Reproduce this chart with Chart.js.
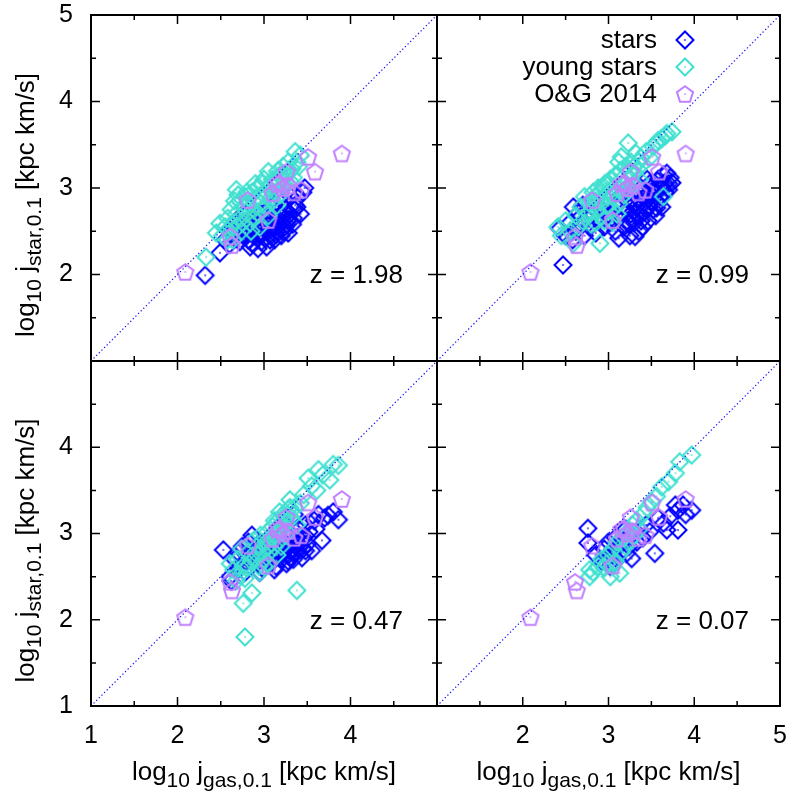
<!DOCTYPE html>
<html>
<head>
<meta charset="utf-8">
<script src="https://cdn.jsdelivr.net/npm/chart.js@4"></script>
<style>
  body { margin: 0; background: #fff; }
  #wrap { position: relative; width: 791px; height: 791px; }
  canvas { position: absolute; left: 0; top: 0; }
</style>
</head>
<body>
<div id="wrap">
  <canvas id="p0" width="791" height="791"></canvas>
  <canvas id="p1" width="791" height="791"></canvas>
  <canvas id="p2" width="791" height="791"></canvas>
  <canvas id="p3" width="791" height="791"></canvas>
</div>
<script>
// ---- data (log10 j_gas, log10 j_star) ----
const seriesNames = ["stars", "young stars", "O&G 2014"];
const redshifts = ["1.98", "0.99", "0.47", "0.07"];
const axisTicks = [1, 2, 3, 4, 5];

const og2014 = [[2.09,2.03],[2.61,2.44],[2.63,2.34],[2.81,2.86],[3.05,2.63],[3.10,2.94],[3.18,3.06],
  [3.22,3.00],[3.28,3.03],[3.43,2.98],[3.26,3.19],[3.51,3.36],[3.59,3.19],[3.90,3.40],[3.15,3.05],[3.35,2.95]];

const starsZ198 = [[2.32,1.99],[2.49,2.25],[2.55,2.40],[2.60,2.35],[2.62,2.48],[2.66,2.42],[2.70,2.55],[2.72,2.38],
  [2.75,2.46],[2.78,2.52],[2.80,2.60],[2.82,2.40],[2.84,2.32],[2.85,2.48],[2.87,2.56],[2.88,2.65],[2.90,2.44],
  [2.92,2.52],[2.93,2.30],[2.95,2.60],[2.96,2.70],[2.97,2.38],[2.98,2.48],[3.00,2.55],[3.01,2.65],[3.02,2.42],
  [3.03,2.32],[3.04,2.75],[3.05,2.50],[3.06,2.60],[3.08,2.45],[3.09,2.68],[3.10,2.55],[3.11,2.80],[3.12,2.40],
  [3.13,2.62],[3.15,2.50],[3.16,2.72],[3.18,2.58],[3.20,2.45],[3.21,2.66],[3.22,2.85],[3.24,2.55],[3.25,2.75],
  [3.27,2.62],[3.28,2.48],[3.30,2.70],[3.31,2.90],[3.33,2.58],[3.34,2.65],[3.36,2.80],[3.38,2.78],[3.40,2.90],
  [3.42,2.70],[3.45,2.95],[3.47,3.00],[2.68,2.62],[2.76,2.70],[2.60,2.52],[3.18,2.88],
  [2.74,2.58],[2.83,2.50],[2.89,2.58],[2.94,2.46],[2.99,2.62],[3.03,2.58],[3.07,2.40],[3.14,2.55],[3.19,2.68],
  [3.23,2.50],[3.26,2.58],[3.29,2.64],[2.86,2.36],[2.91,2.62],[3.07,2.70],[3.35,2.75],[3.14,2.46],[2.80,2.45]];
const youngZ198 = [[2.33,2.20],[2.45,2.48],[2.49,2.59],[2.52,2.45],[2.55,2.55],[2.58,2.65],[2.60,2.50],[2.62,2.75],
  [2.65,2.60],[2.68,2.98],[2.68,2.70],[2.70,2.55],[2.72,2.85],[2.74,2.65],[2.76,2.78],[2.78,2.90],[2.80,2.70],
  [2.82,2.82],[2.84,2.60],[2.86,2.95],[2.88,2.75],[2.90,2.88],[2.92,3.00],[2.94,2.70],[2.96,2.82],[2.98,3.05],
  [3.00,2.92],[3.02,2.78],[3.05,3.19],[3.05,3.00],[3.08,2.88],[3.10,3.10],[3.12,2.95],[3.14,3.05],[3.16,3.20],
  [3.18,2.92],[3.20,3.12],[3.22,3.25],[3.24,3.02],[3.26,3.15],[3.28,3.30],[3.30,3.08],[3.32,3.22],[3.34,3.12],
  [3.36,3.42],[3.38,3.30],[3.40,3.25],[3.42,3.38],[2.95,2.55],[3.15,2.80],[2.85,2.50],[2.64,2.40],[2.58,2.40],
  [3.05,2.68],[2.74,2.50],
  [2.66,2.85],[2.70,2.92],[2.80,2.95],[2.90,3.05],[3.00,3.10],[3.08,3.05],[3.18,3.15],[2.75,2.60],[2.88,2.65],
  [2.98,2.75],[3.10,2.85],[3.25,3.08],[2.62,2.55],[3.30,3.20]];

const starsZ099 = [[2.47,2.11],[2.43,2.53],[2.50,2.45],[2.55,2.60],[2.59,2.78],[2.62,2.50],[2.65,2.71],[2.68,2.58],
  [2.72,2.45],[2.75,2.65],[2.78,2.55],[2.82,2.70],[2.85,2.48],[2.88,2.62],[2.92,2.75],[2.95,2.55],[2.98,2.68],
  [3.00,2.85],[3.02,2.60],[3.05,2.72],[3.08,2.50],[3.10,2.80],[3.12,2.65],[3.15,2.92],[3.18,2.55],[3.20,2.75],
  [3.22,2.62],[3.24,2.85],[3.26,2.70],[3.28,2.95],[3.30,2.60],[3.31,2.44],[3.32,2.78],[3.34,2.88],[3.36,2.68],
  [3.38,3.00],[3.40,2.80],[3.42,2.72],[3.44,2.92],[3.46,2.62],[3.48,3.05],[3.50,2.85],[3.52,2.75],[3.54,2.95],
  [3.56,2.77],[3.58,3.10],[3.60,2.90],[3.62,3.00],[3.64,3.15],[3.66,2.95],[3.68,3.17],[3.70,3.05],[3.72,3.12],
  [3.74,3.06],[3.35,2.50],[3.25,2.45],[2.70,2.80],[3.45,3.10],[2.58,2.40],[3.12,2.42],
  [3.28,2.65],[3.33,2.72],[3.38,2.62],[3.42,2.88],[3.47,2.78],[3.52,2.95],[3.55,2.68],[3.58,2.82],[3.62,2.78],
  [3.66,3.05],[3.40,2.55],[3.30,2.82],[3.24,2.58],[3.50,3.00],[3.60,3.02],[3.70,2.98]];
const youngZ099 = [[2.41,2.55],[2.45,2.45],[2.50,2.62],[2.55,2.50],[2.59,2.36],[2.62,2.68],[2.65,2.55],[2.68,2.78],
  [2.70,2.62],[2.72,2.90],[2.75,2.70],[2.78,2.82],[2.80,2.58],[2.82,2.95],[2.84,2.90],[2.86,2.75],[2.88,3.00],
  [2.90,2.36],[2.90,2.85],[2.92,2.68],[2.94,3.02],[2.96,3.05],[2.98,2.80],[3.00,2.95],[3.02,3.10],[3.04,2.75],
  [3.06,2.90],[3.08,3.15],[3.10,3.00],[3.12,2.82],[3.14,3.20],[3.15,3.36],[3.16,3.05],[3.18,2.92],[3.20,3.25],
  [3.22,3.10],[3.23,3.52],[3.24,2.98],[3.26,3.30],[3.28,3.15],[3.30,3.05],[3.32,3.40],[3.34,3.22],[3.36,3.10],
  [3.38,3.35],[3.40,3.28],[3.44,3.42],[3.48,3.35],[3.52,3.48],[3.56,3.52],[3.58,3.55],[3.62,3.57],[3.64,2.90],
  [3.66,3.60],[3.68,3.63],[3.74,3.65],[2.95,2.62],[3.05,2.60],[2.85,2.60],[3.10,2.70],
  [2.95,2.90],[3.00,3.05],[3.05,3.00],[3.10,3.15],[3.15,3.10],[3.20,3.00],[3.25,3.20],[3.30,3.25],[2.85,2.85],
  [2.90,2.95],[3.12,3.30],[3.35,3.30],[2.78,2.70],[3.00,2.80]];

const starsZ047 = [[2.61,2.50],[2.53,2.81],[2.62,2.45],[2.66,2.70],[2.70,2.78],[2.72,2.60],[2.75,2.85],[2.78,2.68],
  [2.80,2.75],[2.82,2.90],[2.84,2.62],[2.86,2.98],[2.88,2.72],[2.90,2.80],[2.92,2.66],[2.94,2.88],[2.96,2.74],
  [2.98,2.60],[3.00,2.82],[3.02,2.70],[3.04,2.92],[3.06,2.65],[3.08,2.78],[3.10,2.86],[3.12,2.72],[3.14,2.62],
  [3.16,2.80],[3.18,2.95],[3.20,2.70],[3.22,2.78],[3.24,2.88],[3.26,2.65],[3.28,2.75],[3.30,3.00],[3.32,2.82],
  [3.34,2.70],[3.36,2.90],[3.38,2.78],[3.40,3.05],[3.42,2.85],[3.44,2.72],[3.46,2.95],[3.48,3.10],[3.50,2.88],
  [3.52,3.02],[3.55,2.80],[3.58,3.15],[3.60,3.05],[3.63,3.22],[3.67,2.92],[3.70,3.18],[3.74,3.21],[3.80,3.25],
  [3.86,3.16],[3.35,3.22],[3.25,3.10],[2.95,2.55],[3.12,2.58],[2.78,2.55],[3.48,2.80],
  [3.05,2.75],[3.10,2.68],[3.15,2.85],[3.20,2.78],[3.25,2.82],[3.30,2.72],[3.35,2.78],[3.40,2.88],[3.45,2.82],
  [3.28,2.68],[3.18,2.72],[3.38,2.95]];
const youngZ047 = [[2.78,1.80],[2.76,2.19],[2.86,2.31],[3.38,2.34],[2.61,2.65],[2.78,2.48],[2.65,2.58],[2.70,2.70],
  [2.72,2.52],[2.74,2.82],[2.76,2.62],[2.80,2.60],[2.82,2.78],[2.85,2.68],[2.88,2.92],[2.90,2.72],[2.92,2.85],
  [2.94,2.62],[2.96,2.98],[2.98,2.80],[3.00,2.70],[3.02,2.90],[3.04,3.02],[3.06,2.78],[3.08,2.95],[3.10,3.08],
  [3.12,2.85],[3.14,3.00],[3.16,3.15],[3.18,2.92],[3.20,3.05],[3.22,3.22],[3.24,2.98],[3.26,3.12],[3.28,3.28],
  [3.30,3.39],[3.32,3.18],[3.35,3.30],[3.38,3.10],[3.42,3.35],[3.46,3.45],[3.51,3.64],[3.55,3.55],[3.61,3.50],
  [3.63,3.74],[3.68,3.68],[3.76,3.62],[3.80,3.80],[3.86,3.79],[3.00,2.62],[3.15,2.75],[2.95,2.55],[3.05,2.65],
  [2.68,2.45],[3.20,2.85],
  [3.05,2.85],[3.10,2.95],[3.15,3.05],[3.20,3.12],[3.25,3.20],[2.92,2.75],[2.98,2.90],[3.12,3.15],[3.18,3.25],
  [3.30,3.30]];

const starsZ007 = [[2.76,3.06],[2.76,2.89],[2.85,2.75],[2.92,2.68],[2.95,2.82],[2.98,2.72],[3.00,2.90],[3.02,2.62],
  [3.05,2.80],[3.08,2.95],[3.10,2.70],[3.12,2.85],[3.15,2.78],[3.18,2.92],[3.21,2.77],[3.24,2.85],[3.27,2.71],
  [3.30,3.00],[3.33,2.90],[3.36,3.05],[3.40,2.95],[3.44,3.10],[3.48,3.02],[3.54,2.77],[3.58,3.18],[3.64,3.12],
  [3.68,3.04],[3.72,3.20],[3.78,3.33],[3.81,3.27],[3.81,3.04],[3.87,3.33],[3.97,3.27],[3.90,3.22],[3.20,3.05],
  [3.05,2.65]];
const youngZ007 = [[2.78,2.58],[2.78,2.50],[2.82,2.55],[2.88,2.62],[2.92,2.70],[2.95,2.60],[3.00,2.75],[3.02,2.50],
  [3.05,2.82],[3.08,2.68],[3.10,2.90],[3.13,2.54],[3.15,2.78],[3.18,2.95],[3.20,2.85],[3.22,3.02],[3.25,2.92],
  [3.28,3.10],[3.30,2.98],[3.33,3.15],[3.36,3.05],[3.41,3.23],[3.45,3.30],[3.50,3.37],[3.56,3.43],[3.62,3.54],
  [3.70,3.60],[3.78,3.70],[3.83,3.83],[3.97,3.91],[3.05,2.62],[2.98,2.65]];

const starsByPanel = [starsZ198, starsZ099, starsZ047, starsZ007];
const youngByPanel = [youngZ198, youngZ099, youngZ047, youngZ007];

// ---- layout ----
const FONT = '"Liberation Sans", Arial, Helvetica, sans-serif';
const BIG = 26, SUB = 21, TICKFONT = 25;
const panels = [
  { l: 91,  t: 15,  r: 437, b: 361, xLabels: null,         yLabels: [2, 3, 4, 5], legend: false },
  { l: 437, t: 15,  r: 780, b: 361, xLabels: null,         yLabels: null,         legend: true },
  { l: 91,  t: 361, r: 437, b: 706, xLabels: [1, 2, 3, 4], yLabels: [1, 2, 3, 4], legend: false },
  { l: 437, t: 361, r: 780, b: 706, xLabels: [2, 3, 4, 5], yLabels: null,         legend: false }
];
const colors = { stars: "#0000ff", young: "#40e0d0", og: "#c080ff", diag: "#1010ff" };

function marker(color, shape) {
  const c = document.createElement("canvas");
  c.width = 22; c.height = 22;
  const g = c.getContext("2d");
  g.strokeStyle = color; g.fillStyle = color; g.lineWidth = 2;
  g.beginPath();
  if (shape === "diamond") {
    g.moveTo(11, 2.5); g.lineTo(19.5, 11); g.lineTo(11, 19.5); g.lineTo(2.5, 11);
  } else {
    for (let i = 0; i < 5; i++) {
      const a = -Math.PI / 2 + i * 2 * Math.PI / 5;
      const px = 11 + 8.5 * Math.cos(a), py = 11.8 + 8.5 * Math.sin(a);
      if (i === 0) g.moveTo(px, py); else g.lineTo(px, py);
    }
  }
  g.closePath();
  g.stroke();
  g.fillRect(10.25, 10.25, 1.5, 1.5);
  return c;
}
const starImg = marker(colors.stars, "diamond");
const youngImg = marker(colors.young, "diamond");
const ogImg = marker(colors.og, "pentagon");

const toXY = arr => arr.map(p => ({ x: p[0], y: p[1] }));

// text with subscripts: parts = [[text, isSub], ...], centred on x
function drawRich(ctx, parts, x, y) {
  const big = BIG + "px " + FONT, small = SUB + "px " + FONT;
  let w = 0;
  parts.forEach(p => { ctx.font = p[1] ? small : big; w += ctx.measureText(p[0]).width; });
  let cx = x - w / 2;
  ctx.textAlign = "left";
  ctx.textBaseline = "alphabetic";
  parts.forEach(p => {
    ctx.font = p[1] ? small : big;
    ctx.fillText(p[0], cx, y + (p[1] ? 7 : 0));
    cx += ctx.measureText(p[0]).width;
  });
}

const framePlugin = {
  id: "frame",
  afterDraw(chart, args, opts) {
    const { ctx, chartArea: a, scales } = chart;
    const p = opts.panel;
    ctx.save();
    ctx.strokeStyle = "#000";
    // inward ticks, mirrored on all sides
    ctx.lineWidth = 1.5;
    ctx.beginPath();
    for (let v = 1.5; v < 5; v += 0.5) {
      const len = Number.isInteger(v) ? 9 : 5;
      const px = scales.x.getPixelForValue(v);
      ctx.moveTo(px, a.bottom); ctx.lineTo(px, a.bottom - len);
      ctx.moveTo(px, a.top); ctx.lineTo(px, a.top + len);
      const py = scales.y.getPixelForValue(v);
      ctx.moveTo(a.left, py); ctx.lineTo(a.left + len, py);
      ctx.moveTo(a.right, py); ctx.lineTo(a.right - len, py);
    }
    ctx.stroke();
    ctx.lineWidth = 2;
    ctx.strokeRect(a.left, a.top, a.right - a.left, a.bottom - a.top);

    ctx.fillStyle = "#000";
    // redshift label
    ctx.font = BIG + "px " + FONT;
    ctx.textAlign = "right";
    ctx.textBaseline = "alphabetic";
    ctx.fillText("z = " + p.z, a.left + 312, a.top + 268);

    // axis titles
    if (p.xLabels) {
      drawRich(ctx, [["log", 0], ["10", 1], [" j", 0], ["gas,0.1", 1], [" [kpc km/s]", 0]],
        (a.left + a.right) / 2, 780);
    }
    if (p.yLabels) {
      ctx.save();
      ctx.translate(34, (a.top + a.bottom) / 2 + 17);
      ctx.rotate(-Math.PI / 2);
      drawRich(ctx, [["log", 0], ["10", 1], [" j", 0], ["star,0.1", 1], [" [kpc km/s]", 0]], 0, 0);
      ctx.restore();
    }

    // legend
    if (p.legend) {
      const items = [[seriesNames[0], starImg], [seriesNames[1], youngImg], [seriesNames[2], ogImg]];
      ctx.font = BIG + "px " + FONT;
      ctx.textAlign = "right";
      ctx.textBaseline = "middle";
      items.forEach((it, i) => {
        const y = 40 + i * 27;
        ctx.fillText(it[0], 657, y + 1);
        ctx.drawImage(it[1], 685 - 11, y - 11);
      });
    }
    ctx.restore();
  }
};

panels.forEach((p, i) => {
  p.z = redshifts[i];
  const yW = p.yLabels ? p.l : 0;
  const xH = p.xLabels ? 791 - p.b : 0;
  new Chart(document.getElementById("p" + i), {
    type: "scatter",
    data: {
      datasets: [
        { label: "diag", data: [{ x: 1, y: 1 }, { x: 5, y: 5 }], showLine: true, borderColor: colors.diag,
          borderWidth: 1.2, borderDash: [1.3, 2.4], pointRadius: 0, order: 0 },
        { label: seriesNames[2], data: toXY(og2014), pointStyle: ogImg, order: 1 },
        { label: seriesNames[1], data: toXY(youngByPanel[i]), pointStyle: youngImg, order: 2 },
        { label: seriesNames[0], data: toXY(starsByPanel[i]), pointStyle: starImg, order: 3 }
      ]
    },
    options: {
      responsive: false,
      animation: false,
      devicePixelRatio: 1,
      events: [],
      layout: { padding: { left: p.l - yW, top: p.t, right: 791 - p.r, bottom: 791 - p.b - xH } },
      plugins: { legend: { display: false }, tooltip: { enabled: false }, frame: { panel: p } },
      scales: {
        x: {
          type: "linear", min: 1, max: 5,
          grid: { display: false, drawTicks: false }, border: { display: false },
          ticks: {
            display: !!p.xLabels, stepSize: 1, padding: 15, color: "#000", maxRotation: 0,
            autoSkip: false, font: { family: FONT, size: TICKFONT },
            callback: v => (p.xLabels && p.xLabels.includes(v) && axisTicks.includes(v)) ? String(v) : ""
          },
          afterFit: s => { s.height = xH; s.paddingLeft = 0; s.paddingRight = 0; }
        },
        y: {
          type: "linear", min: 1, max: 5,
          grid: { display: false, drawTicks: false }, border: { display: false },
          ticks: {
            display: !!p.yLabels, stepSize: 1, padding: 18, color: "#000",
            autoSkip: false, font: { family: FONT, size: TICKFONT },
            callback: v => (p.yLabels && p.yLabels.includes(v) && axisTicks.includes(v)) ? String(v) : ""
          },
          afterFit: s => { s.width = yW; s.paddingTop = 0; s.paddingBottom = 0; }
        }
      }
    },
    plugins: [framePlugin]
  });
});
</script>
</body>
</html>
